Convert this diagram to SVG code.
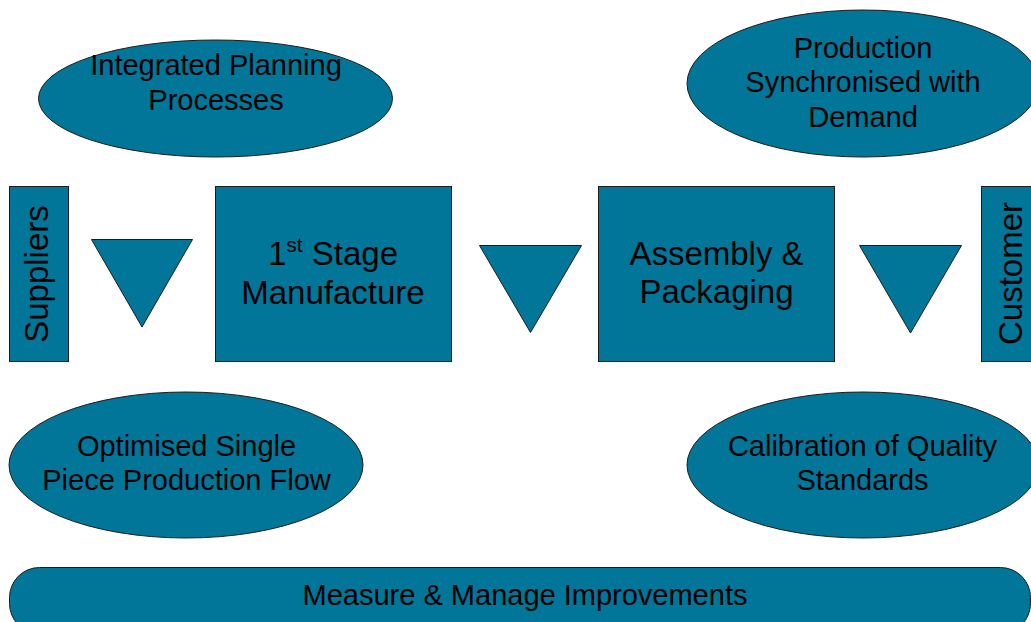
<svg xmlns="http://www.w3.org/2000/svg" width="1031" height="622" viewBox="0 0 1031 622">
  <style>
    .shape { fill: #017698; stroke: #1c1c1c; stroke-width: 1; }
    .lbl { font-family: "Liberation Sans", Arial, sans-serif; fill: #000000; text-anchor: middle; }
    .oval { font-size: 29px; }
    .box { font-size: 33px; }
  </style>
  <rect width="1031" height="622" fill="#ffffff"/>

  <!-- flow markers between the process stages -->
  <g id="connectors">
    <polygon class="shape" points="91.5,239.5 192.5,239.5 142,327"/>
    <polygon class="shape" points="479.5,245.5 581.5,245.5 530.5,332.5"/>
    <polygon class="shape" points="859.5,245.5 961.5,245.5 910.5,333"/>
  </g>

  <g id="integrated-planning">
    <ellipse class="shape" cx="215.5" cy="98.5" rx="177" ry="58.5"/>
    <text class="lbl oval" x="216" y="75">Integrated Planning</text>
    <text class="lbl oval" x="216" y="109.5">Processes</text>
  </g>

  <g id="production-synchronised">
    <ellipse class="shape" cx="863" cy="83.5" rx="176" ry="73.5"/>
    <text class="lbl oval" x="863" y="57.5">Production</text>
    <text class="lbl oval" x="863" y="92">Synchronised with</text>
    <text class="lbl oval" x="863" y="126.5">Demand</text>
  </g>

  <g id="suppliers">
    <rect class="shape" x="9.5" y="186.5" width="59" height="175"/>
    <text class="lbl box" transform="translate(47.5 274) rotate(-90)" x="0" y="0">Suppliers</text>
  </g>

  <g id="first-stage">
    <rect class="shape" x="215.5" y="186.5" width="236" height="175"/>
    <text class="lbl box" x="333" y="264.5"><tspan>1</tspan><tspan font-size="21" dy="-13">st</tspan><tspan dy="13"> Stage</tspan></text>
    <text class="lbl box" x="333" y="303.5">Manufacture</text>
  </g>

  <g id="assembly">
    <rect class="shape" x="598.5" y="186.5" width="236" height="175"/>
    <text class="lbl box" x="716.5" y="264.5">Assembly &amp;</text>
    <text class="lbl box" x="716.5" y="303">Packaging</text>
  </g>

  <g id="customer">
    <rect class="shape" x="981.5" y="186.5" width="60" height="175"/>
    <text class="lbl box" transform="translate(1022 273.5) rotate(-90)" x="0" y="0">Customer</text>
  </g>

  <g id="single-piece-flow">
    <ellipse class="shape" cx="186" cy="465" rx="177" ry="73"/>
    <text class="lbl oval" x="186.5" y="456">Optimised Single</text>
    <text class="lbl oval" x="186.5" y="489.5">Piece Production Flow</text>
  </g>

  <g id="quality-calibration">
    <ellipse class="shape" cx="863" cy="465" rx="176" ry="73"/>
    <text class="lbl oval" x="862.5" y="456">Calibration of Quality</text>
    <text class="lbl oval" x="862.5" y="489.5">Standards</text>
  </g>

  <g id="measure-manage">
    <rect class="shape" x="9.5" y="567.5" width="1021" height="66" rx="30" ry="30"/>
    <text class="lbl oval" x="525" y="604.5">Measure &amp; Manage Improvements</text>
  </g>
</svg>
